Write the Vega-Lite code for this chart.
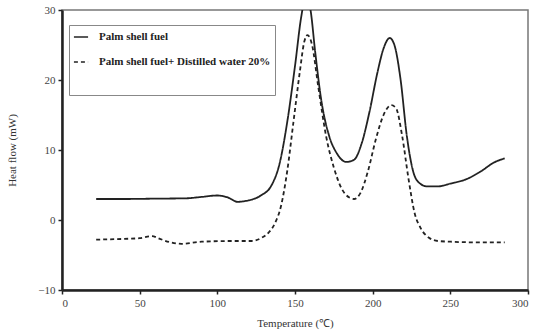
{
  "$schema": "https://vega.github.io/schema/vega-lite/v6.json",
  "width": 466,
  "height": 280,
  "autosize": {"type": "none"},
  "padding": {"left": 62, "top": 10, "right": 11, "bottom": 46},
  "background": "white",
  "config": {
    "font": "Liberation Serif",
    "view": {"stroke": "#777", "strokeWidth": 1.5}
  },
  "data": {
    "values": [
      {"t": 22, "hf": 3.0, "s": "Palm shell fuel"},
      {"t": 40, "hf": 3.0, "s": "Palm shell fuel"},
      {"t": 60, "hf": 3.05, "s": "Palm shell fuel"},
      {"t": 80, "hf": 3.1, "s": "Palm shell fuel"},
      {"t": 90, "hf": 3.3, "s": "Palm shell fuel"},
      {"t": 100, "hf": 3.5, "s": "Palm shell fuel"},
      {"t": 107, "hf": 3.2, "s": "Palm shell fuel"},
      {"t": 113, "hf": 2.6, "s": "Palm shell fuel"},
      {"t": 120, "hf": 2.8, "s": "Palm shell fuel"},
      {"t": 128, "hf": 3.5, "s": "Palm shell fuel"},
      {"t": 135, "hf": 5, "s": "Palm shell fuel"},
      {"t": 140, "hf": 8, "s": "Palm shell fuel"},
      {"t": 145, "hf": 14, "s": "Palm shell fuel"},
      {"t": 150, "hf": 22, "s": "Palm shell fuel"},
      {"t": 154, "hf": 29, "s": "Palm shell fuel"},
      {"t": 157, "hf": 32, "s": "Palm shell fuel"},
      {"t": 160, "hf": 30, "s": "Palm shell fuel"},
      {"t": 163, "hf": 24, "s": "Palm shell fuel"},
      {"t": 167, "hf": 17, "s": "Palm shell fuel"},
      {"t": 172, "hf": 12, "s": "Palm shell fuel"},
      {"t": 177, "hf": 9.5, "s": "Palm shell fuel"},
      {"t": 183, "hf": 8.3, "s": "Palm shell fuel"},
      {"t": 188, "hf": 8.6, "s": "Palm shell fuel"},
      {"t": 193, "hf": 11, "s": "Palm shell fuel"},
      {"t": 198, "hf": 15.5, "s": "Palm shell fuel"},
      {"t": 203, "hf": 21, "s": "Palm shell fuel"},
      {"t": 207, "hf": 24.5, "s": "Palm shell fuel"},
      {"t": 211, "hf": 26, "s": "Palm shell fuel"},
      {"t": 214, "hf": 25, "s": "Palm shell fuel"},
      {"t": 218, "hf": 20, "s": "Palm shell fuel"},
      {"t": 222, "hf": 12, "s": "Palm shell fuel"},
      {"t": 226, "hf": 7, "s": "Palm shell fuel"},
      {"t": 230, "hf": 5.3, "s": "Palm shell fuel"},
      {"t": 235, "hf": 4.8, "s": "Palm shell fuel"},
      {"t": 242, "hf": 4.8, "s": "Palm shell fuel"},
      {"t": 250, "hf": 5.2, "s": "Palm shell fuel"},
      {"t": 260, "hf": 5.8, "s": "Palm shell fuel"},
      {"t": 270, "hf": 7, "s": "Palm shell fuel"},
      {"t": 278, "hf": 8.2, "s": "Palm shell fuel"},
      {"t": 285, "hf": 8.8, "s": "Palm shell fuel"},
      {"t": 22, "hf": -2.8, "s": "Palm shell fuel+ Distilled water 20%"},
      {"t": 40, "hf": -2.7, "s": "Palm shell fuel+ Distilled water 20%"},
      {"t": 50, "hf": -2.6, "s": "Palm shell fuel+ Distilled water 20%"},
      {"t": 58, "hf": -2.3, "s": "Palm shell fuel+ Distilled water 20%"},
      {"t": 63, "hf": -2.7, "s": "Palm shell fuel+ Distilled water 20%"},
      {"t": 70, "hf": -3.2, "s": "Palm shell fuel+ Distilled water 20%"},
      {"t": 77, "hf": -3.4, "s": "Palm shell fuel+ Distilled water 20%"},
      {"t": 90, "hf": -3.1, "s": "Palm shell fuel+ Distilled water 20%"},
      {"t": 110, "hf": -3.0, "s": "Palm shell fuel+ Distilled water 20%"},
      {"t": 122, "hf": -3.0, "s": "Palm shell fuel+ Distilled water 20%"},
      {"t": 128, "hf": -2.6, "s": "Palm shell fuel+ Distilled water 20%"},
      {"t": 133, "hf": -1.8, "s": "Palm shell fuel+ Distilled water 20%"},
      {"t": 137, "hf": -0.5, "s": "Palm shell fuel+ Distilled water 20%"},
      {"t": 141, "hf": 2, "s": "Palm shell fuel+ Distilled water 20%"},
      {"t": 145, "hf": 7, "s": "Palm shell fuel+ Distilled water 20%"},
      {"t": 149, "hf": 14, "s": "Palm shell fuel+ Distilled water 20%"},
      {"t": 153, "hf": 21, "s": "Palm shell fuel+ Distilled water 20%"},
      {"t": 156, "hf": 25.5, "s": "Palm shell fuel+ Distilled water 20%"},
      {"t": 158, "hf": 26.4, "s": "Palm shell fuel+ Distilled water 20%"},
      {"t": 161, "hf": 25, "s": "Palm shell fuel+ Distilled water 20%"},
      {"t": 165, "hf": 19, "s": "Palm shell fuel+ Distilled water 20%"},
      {"t": 170, "hf": 12, "s": "Palm shell fuel+ Distilled water 20%"},
      {"t": 175, "hf": 7.5, "s": "Palm shell fuel+ Distilled water 20%"},
      {"t": 180, "hf": 4.5, "s": "Palm shell fuel+ Distilled water 20%"},
      {"t": 185, "hf": 3.2, "s": "Palm shell fuel+ Distilled water 20%"},
      {"t": 188, "hf": 3.0, "s": "Palm shell fuel+ Distilled water 20%"},
      {"t": 192, "hf": 3.8, "s": "Palm shell fuel+ Distilled water 20%"},
      {"t": 197, "hf": 7, "s": "Palm shell fuel+ Distilled water 20%"},
      {"t": 202, "hf": 11.5, "s": "Palm shell fuel+ Distilled water 20%"},
      {"t": 207, "hf": 15, "s": "Palm shell fuel+ Distilled water 20%"},
      {"t": 212, "hf": 16.4, "s": "Palm shell fuel+ Distilled water 20%"},
      {"t": 215, "hf": 16, "s": "Palm shell fuel+ Distilled water 20%"},
      {"t": 219, "hf": 12, "s": "Palm shell fuel+ Distilled water 20%"},
      {"t": 223, "hf": 6, "s": "Palm shell fuel+ Distilled water 20%"},
      {"t": 227, "hf": 1, "s": "Palm shell fuel+ Distilled water 20%"},
      {"t": 231, "hf": -1.2, "s": "Palm shell fuel+ Distilled water 20%"},
      {"t": 236, "hf": -2.5, "s": "Palm shell fuel+ Distilled water 20%"},
      {"t": 242, "hf": -3.0, "s": "Palm shell fuel+ Distilled water 20%"},
      {"t": 250, "hf": -3.1, "s": "Palm shell fuel+ Distilled water 20%"},
      {"t": 270, "hf": -3.2, "s": "Palm shell fuel+ Distilled water 20%"},
      {"t": 285, "hf": -3.2, "s": "Palm shell fuel+ Distilled water 20%"}
    ]
  },
  "mark": {"type": "line", "clip": true, "color": "#222", "strokeWidth": 1.8, "interpolate": "monotone"},
  "encoding": {
    "x": {
      "field": "t", "type": "quantitative",
      "scale": {"domain": [0, 300], "nice": false},
      "axis": {
        "values": [0, 50, 100, 150, 200, 250, 300],
        "title": "Temperature (℃)",
        "titleFont": "Liberation Serif", "titleFontWeight": "normal", "titleFontSize": 11, "titleColor": "#333",
        "titlePadding": 9,
        "labelFont": "Liberation Serif", "labelFontSize": 11, "labelColor": "#444",
        "grid": false, "domainColor": "#222", "domainWidth": 2.5,
        "tickColor": "#222", "tickSize": 4, "tickWidth": 1.5, "labelPadding": 3
      }
    },
    "y": {
      "field": "hf", "type": "quantitative",
      "scale": {"domain": [-10, 30], "nice": false},
      "axis": {
        "values": [-10, 0, 10, 20, 30],
        "title": "Heat flow (mW)",
        "titleFont": "Liberation Serif", "titleFontWeight": "normal", "titleFontSize": 11, "titleColor": "#333",
        "titlePadding": 20,
        "labelFont": "Liberation Serif", "labelFontSize": 11, "labelColor": "#444",
        "grid": false, "domainColor": "#222", "domainWidth": 2.5,
        "tickColor": "#222", "tickSize": 4, "tickWidth": 1.5, "labelPadding": 3
      }
    },
    "strokeDash": {
      "field": "s", "type": "nominal",
      "scale": {"domain": ["Palm shell fuel", "Palm shell fuel+ Distilled water 20%"], "range": [[1, 0], [4, 3]]},
      "legend": {
        "orient": "none", "legendX": 7, "legendY": 15,
        "title": " ", "titleOrient": "bottom", "titleFontSize": 18, "titlePadding": 6,
        "strokeColor": "#888", "fillColor": "white", "padding": 4,
        "symbolType": "stroke", "symbolStrokeColor": "#222", "symbolStrokeWidth": 1.5, "symbolSize": 200,
        "labelFont": "Liberation Serif", "labelFontWeight": "bold", "labelFontSize": 11, "labelColor": "#222",
        "rowPadding": 12, "labelLimit": 250, "labelOffset": 10
      }
    }
  }
}
